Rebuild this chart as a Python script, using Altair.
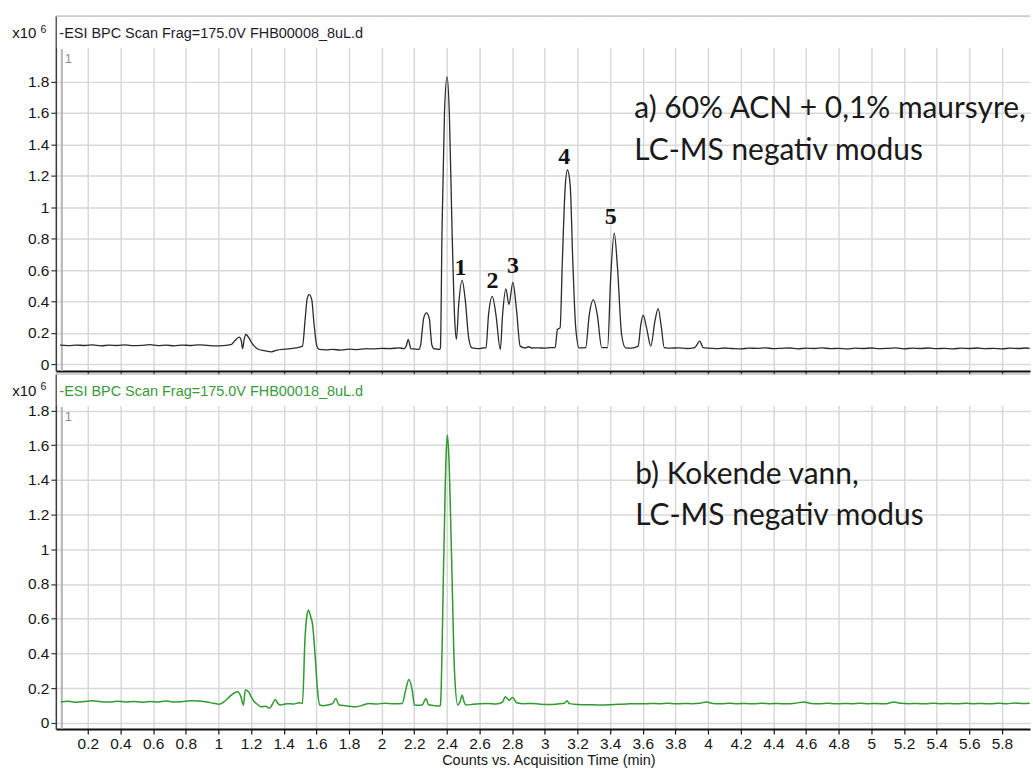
import altair as alt
import pandas as pd

# ---------------------------------------------------------------------------
# Base peak chromatograms: retention time (min) and intensity (x10^6 counts)
# ---------------------------------------------------------------------------
TIME_A = [
    0.03, 0.08, 0.13, 0.18, 0.23, 0.28, 0.33, 0.38, 0.43, 0.48,
    0.53, 0.58, 0.63, 0.68, 0.73, 0.78, 0.83, 0.88, 0.93, 0.98,
    1.03, 1.08, 1.10, 1.128, 1.140, 1.148, 1.158, 1.169, 1.189, 1.205,
    1.220, 1.250, 1.28, 1.324, 1.36, 1.391, 1.43, 1.476, 1.515, 1.532,
    1.544, 1.556, 1.572, 1.586, 1.603, 1.617, 1.66, 1.70, 1.75, 1.80,
    1.85, 1.905, 1.95, 2.00, 2.05, 2.105, 2.136, 2.150, 2.163, 2.172,
    2.179, 2.20, 2.228, 2.240, 2.246, 2.258, 2.275, 2.293, 2.300, 2.307,
    2.319, 2.340, 2.356, 2.360, 2.370, 2.385, 2.401, 2.415, 2.431, 2.448,
    2.458, 2.472, 2.493, 2.513, 2.533, 2.553, 2.594, 2.620, 2.639, 2.655,
    2.678, 2.700, 2.727, 2.741, 2.761, 2.780, 2.804, 2.825, 2.849, 2.879,
    2.900, 2.920, 2.961, 3.000, 3.030, 3.063, 3.077, 3.093, 3.107, 3.124,
    3.138, 3.155, 3.171, 3.189, 3.210, 3.250, 3.272, 3.297, 3.321, 3.348,
    3.384, 3.403, 3.425, 3.445, 3.470, 3.494, 3.530, 3.571, 3.588, 3.602,
    3.623, 3.649, 3.674, 3.694, 3.714, 3.731, 3.77, 3.816, 3.87, 3.918,
    3.949, 3.969, 4.00, 4.05, 4.10, 4.15, 4.20, 4.25, 4.30, 4.35,
    4.40, 4.45, 4.50, 4.55, 4.60, 4.65, 4.70, 4.75, 4.80, 4.85,
    4.90, 4.95, 5.00, 5.05, 5.10, 5.15, 5.20, 5.25, 5.30, 5.35,
    5.40, 5.45, 5.50, 5.55, 5.60, 5.65, 5.70, 5.75, 5.80, 5.85,
    5.90, 5.95, 5.97,
]
INT_A = [
    0.122, 0.119, 0.123, 0.120, 0.124, 0.118, 0.122, 0.120, 0.124, 0.119,
    0.121, 0.125, 0.119, 0.122, 0.118, 0.123, 0.120, 0.124, 0.121, 0.117,
    0.119, 0.127, 0.150, 0.173, 0.150, 0.100, 0.160, 0.190, 0.165, 0.135,
    0.116, 0.093, 0.088, 0.080, 0.090, 0.095, 0.098, 0.105, 0.116, 0.296,
    0.420, 0.444, 0.410, 0.254, 0.116, 0.095, 0.092, 0.095, 0.091, 0.097,
    0.094, 0.100, 0.098, 0.102, 0.100, 0.105, 0.100, 0.115, 0.159, 0.125,
    0.100, 0.098, 0.095, 0.130, 0.190, 0.296, 0.327, 0.285, 0.200, 0.127,
    0.100, 0.097, 0.095, 0.105, 0.867, 1.607, 1.829, 1.586, 0.867, 0.275,
    0.159, 0.381, 0.535, 0.402, 0.169, 0.105, 0.100, 0.104, 0.105, 0.317,
    0.433, 0.317, 0.095, 0.317, 0.480, 0.381, 0.522, 0.359, 0.116, 0.105,
    0.112, 0.104, 0.105, 0.103, 0.106, 0.107, 0.222, 0.232, 0.655, 1.120,
    1.237, 1.142, 0.655, 0.232, 0.105, 0.107, 0.317, 0.412, 0.317, 0.107,
    0.107, 0.550, 0.835, 0.613, 0.190, 0.105, 0.103, 0.116, 0.254, 0.313,
    0.232, 0.116, 0.275, 0.355, 0.232, 0.107, 0.103, 0.105, 0.101, 0.107,
    0.148, 0.107, 0.103, 0.100, 0.104, 0.101, 0.099, 0.103, 0.102, 0.105,
    0.100, 0.102, 0.104, 0.099, 0.103, 0.101, 0.105, 0.100, 0.102, 0.098,
    0.103, 0.101, 0.104, 0.100, 0.102, 0.105, 0.099, 0.103, 0.101, 0.104,
    0.100, 0.102, 0.099, 0.103, 0.101, 0.104, 0.100, 0.102, 0.099, 0.103,
    0.101, 0.104, 0.102,
]

TIME_B = [
    0.035, 0.08, 0.13, 0.18, 0.23, 0.28, 0.33, 0.38, 0.43, 0.48,
    0.53, 0.58, 0.63, 0.68, 0.73, 0.78, 0.83, 0.884, 0.93, 0.97,
    1.006, 1.04, 1.067, 1.095, 1.118, 1.138, 1.153, 1.165, 1.185, 1.20,
    1.22, 1.24, 1.261, 1.290, 1.312, 1.330, 1.348, 1.365, 1.383, 1.42,
    1.46, 1.495, 1.515, 1.530, 1.542, 1.552, 1.566, 1.576, 1.593, 1.607,
    1.621, 1.645, 1.668, 1.700, 1.719, 1.739, 1.78, 1.841, 1.88, 1.922,
    1.97, 2.02, 2.07, 2.126, 2.147, 2.167, 2.187, 2.201, 2.225, 2.248,
    2.272, 2.287, 2.299, 2.33, 2.356, 2.360, 2.381, 2.395, 2.403, 2.411,
    2.428, 2.446, 2.466, 2.480, 2.493, 2.505, 2.517, 2.56, 2.60, 2.655,
    2.70, 2.74, 2.757, 2.782, 2.802, 2.828, 2.87, 2.92, 2.97, 3.022,
    3.08, 3.12, 3.135, 3.15, 3.20, 3.25, 3.30, 3.35, 3.40, 3.45,
    3.50, 3.55, 3.60, 3.65, 3.70, 3.75, 3.80, 3.85, 3.90, 3.95,
    3.99, 4.03, 4.08, 4.13, 4.18, 4.23, 4.28, 4.33, 4.38, 4.43,
    4.48, 4.53, 4.59, 4.63, 4.68, 4.73, 4.78, 4.83, 4.88, 4.93,
    4.98, 5.03, 5.08, 5.14, 5.18, 5.23, 5.28, 5.33, 5.38, 5.43,
    5.48, 5.53, 5.58, 5.63, 5.68, 5.73, 5.78, 5.83, 5.88, 5.93,
    5.97,
]
INT_B = [
    0.120, 0.124, 0.118, 0.122, 0.126, 0.121, 0.119, 0.124, 0.120, 0.123,
    0.118, 0.122, 0.120, 0.125, 0.119, 0.122, 0.127, 0.125, 0.120, 0.112,
    0.107, 0.125, 0.149, 0.170, 0.178, 0.149, 0.102, 0.188, 0.178, 0.150,
    0.121, 0.105, 0.092, 0.095, 0.083, 0.105, 0.134, 0.110, 0.102, 0.110,
    0.108, 0.115, 0.111, 0.475, 0.619, 0.648, 0.609, 0.571, 0.379, 0.188,
    0.102, 0.098, 0.102, 0.110, 0.140, 0.102, 0.098, 0.092, 0.100, 0.111,
    0.108, 0.112, 0.109, 0.111, 0.188, 0.249, 0.188, 0.102, 0.100, 0.102,
    0.140, 0.104, 0.102, 0.098, 0.096, 0.102, 0.973, 1.548, 1.659, 1.548,
    0.973, 0.303, 0.102, 0.120, 0.159, 0.120, 0.102, 0.106, 0.109, 0.111,
    0.108, 0.118, 0.149, 0.130, 0.146, 0.115, 0.110, 0.111, 0.107, 0.105,
    0.108, 0.112, 0.126, 0.110, 0.105, 0.104, 0.103, 0.102, 0.104, 0.106,
    0.108, 0.110, 0.109, 0.111, 0.110, 0.112, 0.109, 0.111, 0.110, 0.112,
    0.120, 0.111, 0.109, 0.112, 0.110, 0.111, 0.109, 0.112, 0.110, 0.111,
    0.109, 0.112, 0.120, 0.111, 0.110, 0.112, 0.109, 0.111, 0.110, 0.112,
    0.110, 0.111, 0.109, 0.119, 0.112, 0.110, 0.111, 0.109, 0.112, 0.110,
    0.111, 0.109, 0.112, 0.110, 0.111, 0.109, 0.112, 0.110, 0.113, 0.111,
    0.112,
]

X_TICKS = [0.2, 0.4, 0.6, 0.8, 1, 1.2, 1.4, 1.6, 1.8, 2, 2.2, 2.4, 2.6, 2.8,
           3, 3.2, 3.4, 3.6, 3.8, 4, 4.2, 4.4, 4.6, 4.8, 5, 5.2, 5.4, 5.6, 5.8]
Y_TICKS = [0, 0.2, 0.4, 0.6, 0.8, 1, 1.2, 1.4, 1.6, 1.8]

# numbered compounds in trace a)
PEAK_NAMES = ["1", "2", "3", "4", "5"]
PEAK_T = [2.483, 2.679, 2.805, 3.119, 3.403]
PEAK_V = [0.613, 0.529, 0.624, 1.322, 0.939]

NOTE_A = ["a) 60% ACN + 0,1% maursyre,", "LC-MS negativ modus"]
NOTE_A_T = [3.548, 3.548]
NOTE_A_V = [1.568, 1.302]

NOTE_B = ["b) Kokende vann,", "LC-MS negativ modus"]
NOTE_B_T = [3.553, 3.553]
NOTE_B_V = [1.377, 1.142]

TITLE_A = "-ESI BPC Scan Frag=175.0V FHB00008_8uL.d"
TITLE_B = "-ESI BPC Scan Frag=175.0V FHB00018_8uL.d"
X_TITLE = "Counts vs. Acquisition Time (min)"

# ---------------------------------------------------------------------------
W = 977
H = 356
FONT = "Liberation Sans"
NOTE_FONT = "Lato"
GRID = "#d9d9d9"
AXIS_DARK = "#3a3a3a"
LABEL = "#151515"
TRACE_A = "#2b2b2b"
TRACE_B = "#2f9a2f"

x_scale = alt.Scale(domain=[0.004, 5.972], nice=False, zero=False)
y_scale_a = alt.Scale(domain=[-0.0425, 2.2165], nice=False, zero=False)
y_scale_b = alt.Scale(domain=[-0.0362, 2.0098], nice=False, zero=False)

one = pd.DataFrame({"k": [0]})


def y_axis():
    return alt.Axis(values=Y_TICKS, tickCount=100, format="~g", grid=True,
                    gridColor=GRID, gridWidth=1.5, domainColor=AXIS_DARK,
                    domainWidth=1.5, tickColor=AXIS_DARK, tickSize=5,
                    tickWidth=1.2, labelFont=FONT, labelFontSize=15.5,
                    labelColor=LABEL, labelPadding=2, labelOverlap=False,
                    title=None)


def x_axis(show_labels):
    if show_labels:
        return alt.Axis(values=X_TICKS, tickCount=100, format="~g", grid=True,
                        gridColor=GRID, gridWidth=1.5, domainColor="#111111",
                        domainWidth=2.2, tickColor="#111111", tickSize=5,
                        tickWidth=1.2, labelFont=FONT, labelFontSize=15.5,
                        labelColor=LABEL, labelPadding=3, labelFlush=False,
                        labelOverlap=False, title=X_TITLE, titleFont=FONT,
                        titleFontSize=14.5, titleFontWeight="normal",
                        titleColor=LABEL, titlePadding=1, titleX=494)
    return alt.Axis(values=X_TICKS, tickCount=100, grid=True, gridColor=GRID,
                    gridWidth=1.5, domainColor="#111111", domainWidth=2,
                    tickColor="#111111", tickSize=3, tickWidth=1.2,
                    labels=False, title=None)


def panel(df, y_scale, color, width, title, title_color, notes, notes_t,
          notes_v, show_labels):
    base_x = alt.X("t:Q", scale=x_scale, axis=x_axis(show_labels))
    trace = alt.Chart(df).mark_line(
        color=color, strokeWidth=width, interpolate="monotone"
    ).encode(x=base_x, y=alt.Y("v:Q", scale=y_scale, axis=y_axis()))

    band = alt.Chart(one).mark_rect(color="white").encode(
        x=alt.value(1), x2=alt.value(W), y=alt.value(1), y2=alt.value(32))
    frame = alt.Chart(one).mark_rule(color="#a6a6a6", strokeWidth=1).encode(
        x=alt.value(0), x2=alt.value(W), y=alt.value(0))
    cursor = alt.Chart(one).mark_rule(color="#b4b4b4", strokeWidth=2).encode(
        x=alt.value(6), y=alt.value(33), y2=alt.value(H))
    cursor_lbl = alt.Chart(one).mark_text(
        text="1", font=FONT, fontSize=13, color="#8f8f8f", align="left",
        baseline="alphabetic").encode(x=alt.value(9), y=alt.value(47))
    head = alt.Chart(one).mark_text(
        text=title, font=FONT, fontSize=14.5, color=title_color, align="left",
        baseline="alphabetic").encode(x=alt.value(3.5), y=alt.value(22))
    mult = alt.Chart(one).mark_text(
        text="x10", font=FONT, fontSize=15, color=LABEL, align="left",
        baseline="alphabetic").encode(x=alt.value(-43.7), y=alt.value(22))
    expo = alt.Chart(one).mark_text(
        text="6", font=FONT, fontSize=10.5, color=LABEL, align="left",
        baseline="alphabetic").encode(x=alt.value(-15.5), y=alt.value(16.5))

    notes_df = pd.DataFrame({"label": notes, "t": notes_t, "v": notes_v})
    note = alt.Chart(notes_df).mark_text(
        font=NOTE_FONT, fontSize=30, color="#1a1a1a", align="left",
        baseline="alphabetic").encode(
        x=alt.X("t:Q", scale=x_scale), y=alt.Y("v:Q", scale=y_scale),
        text="label:N")

    return [band, frame, cursor, cursor_lbl, trace, head, mult, expo, note]


df_a = pd.DataFrame({"t": TIME_A, "v": INT_A})
df_b = pd.DataFrame({"t": TIME_B, "v": INT_B})

layers_a = panel(df_a, y_scale_a, TRACE_A, 1.3, TITLE_A, "#1f1a2e",
                 NOTE_A, NOTE_A_T, NOTE_A_V, False)
peaks_df = pd.DataFrame({"label": PEAK_NAMES, "t": PEAK_T, "v": PEAK_V})
peaks = alt.Chart(peaks_df).mark_text(
    font="Liberation Serif", fontSize=24, fontWeight="bold", color="#111111",
    align="center", baseline="middle").encode(
    x=alt.X("t:Q", scale=x_scale), y=alt.Y("v:Q", scale=y_scale_a),
    text="label:N")
top = alt.layer(*layers_a, peaks).properties(width=W, height=H)

layers_b = panel(df_b, y_scale_b, TRACE_B, 1.5, TITLE_B, "#3a9a3a",
                 NOTE_B, NOTE_B_T, NOTE_B_V, True)
bottom = alt.layer(*layers_b).properties(width=W, height=H)

chart = alt.vconcat(top, bottom, spacing=3, bounds="flush").properties(
    padding={"left": 12, "top": 14, "right": 0, "bottom": 0}
).configure_view(stroke=None).resolve_scale(y="independent")

chart.save("out.html", embed_options={"renderer": "svg", "actions": False})
